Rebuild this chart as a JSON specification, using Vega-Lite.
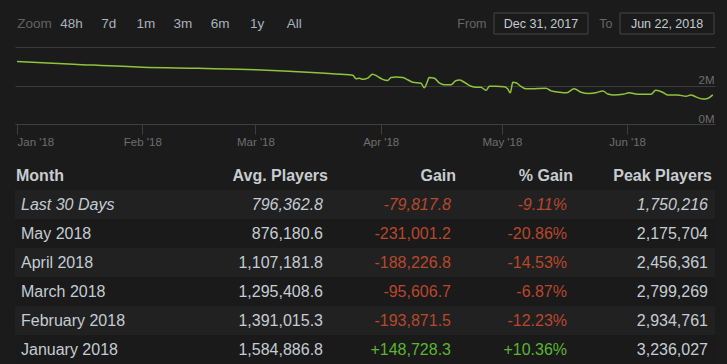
{
  "$schema": "https://vega.github.io/schema/vega-lite/v6.json",
  "background": "#1b1b1b",
  "padding": {"left": 14, "right": 13, "top": 0, "bottom": 0},
  "config": {
    "view": {"stroke": null},
    "font": "Liberation Sans",
    "text": {"font": "Liberation Sans"},
    "locale": {"number": {"decimal": ".", "thousands": ",", "grouping": [3], "currency": ["$", ""], "minus": "-"}}
  },
  "datasets": {
    "buttons": [{"b": "Zoom"}, {"b": "48h"}, {"b": "7d"}, {"b": "1m"}, {"b": "3m"}, {"b": "6m"}, {"b": "1y"}, {"b": "All"}],
    "boxes": [{"box": "from", "label": "From", "date": "Dec 31, 2017"}, {"box": "to", "label": "To", "date": "Jun 22, 2018"}],
    "header": [{"col": "Month"}, {"col": "Avg. Players"}, {"col": "Gain"}, {"col": "% Gain"}, {"col": "Peak Players"}],
    "months": [
      {"month": "Last 30 Days", "avg": 796362.8, "gain": -79817.8, "pct": -0.0911, "peak": 1750216},
      {"month": "May 2018", "avg": 876180.6, "gain": -231001.2, "pct": -0.2086, "peak": 2175704},
      {"month": "April 2018", "avg": 1107181.8, "gain": -188226.8, "pct": -0.1453, "peak": 2456361},
      {"month": "March 2018", "avg": 1295408.6, "gain": -95606.7, "pct": -0.0687, "peak": 2799269},
      {"month": "February 2018", "avg": 1391015.3, "gain": -193871.5, "pct": -0.1223, "peak": 2934761},
      {"month": "January 2018", "avg": 1584886.8, "gain": 148728.3, "pct": 0.1036, "peak": 3236027}
    ],
    "nav": [
      {"d": "2018-01-01", "v": 3250000},
      {"d": "2018-01-15", "v": 3110000},
      {"d": "2018-02-01", "v": 2950000},
      {"d": "2018-02-15", "v": 2890000},
      {"d": "2018-03-01", "v": 2820000},
      {"d": "2018-03-15", "v": 2680000},
      {"d": "2018-03-22T05:00Z", "v": 2580000},
      {"d": "2018-03-25T02:00Z", "v": 2530000},
      {"d": "2018-03-25T22:00Z", "v": 2350000},
      {"d": "2018-03-26T17:00Z", "v": 2380000},
      {"d": "2018-03-27T14:00Z", "v": 2320000},
      {"d": "2018-03-28T19:00Z", "v": 2380000},
      {"d": "2018-03-30T00:00Z", "v": 2590000},
      {"d": "2018-03-31T07:00Z", "v": 2460000},
      {"d": "2018-04-01T12:00Z", "v": 2320000},
      {"d": "2018-04-02T17:00Z", "v": 2260000},
      {"d": "2018-04-03T14:00Z", "v": 2420000},
      {"d": "2018-04-04T19:00Z", "v": 2440000},
      {"d": "2018-04-06T12:00Z", "v": 2410000},
      {"d": "2018-04-07T17:00Z", "v": 2300000},
      {"d": "2018-04-08T22:00Z", "v": 2170000},
      {"d": "2018-04-11T00:00Z", "v": 2120000},
      {"d": "2018-04-11T19:00Z", "v": 1880000},
      {"d": "2018-04-12T12:00Z", "v": 2170000},
      {"d": "2018-04-13T00:00Z", "v": 2420000},
      {"d": "2018-04-14T07:00Z", "v": 2380000},
      {"d": "2018-04-15T12:00Z", "v": 2140000},
      {"d": "2018-04-16T17:00Z", "v": 2040000},
      {"d": "2018-04-18T10:00Z", "v": 2040000},
      {"d": "2018-04-19T14:00Z", "v": 2250000},
      {"d": "2018-04-20T12:00Z", "v": 2280000},
      {"d": "2018-04-21T17:00Z", "v": 2170000},
      {"d": "2018-04-23T10:00Z", "v": 1960000},
      {"d": "2018-04-24T14:00Z", "v": 1910000},
      {"d": "2018-04-25T19:00Z", "v": 1910000},
      {"d": "2018-04-27T02:00Z", "v": 1750000},
      {"d": "2018-04-27T22:00Z", "v": 1960000},
      {"d": "2018-04-29T12:00Z", "v": 1960000},
      {"d": "2018-05-01T14:00Z", "v": 1930000},
      {"d": "2018-05-02T10:00Z", "v": 1830000},
      {"d": "2018-05-03T02:00Z", "v": 1620000},
      {"d": "2018-05-03T17:00Z", "v": 2170000},
      {"d": "2018-05-04T12:00Z", "v": 2140000},
      {"d": "2018-05-05T17:00Z", "v": 1960000},
      {"d": "2018-05-07T00:00Z", "v": 1830000},
      {"d": "2018-05-08T05:00Z", "v": 1830000},
      {"d": "2018-05-11T22:00Z", "v": 1860000},
      {"d": "2018-05-13T05:00Z", "v": 1720000},
      {"d": "2018-05-15T05:00Z", "v": 1650000},
      {"d": "2018-05-16T22:00Z", "v": 1620000},
      {"d": "2018-05-18T22:00Z", "v": 1830000},
      {"d": "2018-05-20T14:00Z", "v": 1650000},
      {"d": "2018-05-22T14:00Z", "v": 1580000},
      {"d": "2018-05-24T07:00Z", "v": 1620000},
      {"d": "2018-05-26T00:00Z", "v": 1720000},
      {"d": "2018-05-27T05:00Z", "v": 1560000},
      {"d": "2018-05-28T19:00Z", "v": 1510000},
      {"d": "2018-05-30T22:00Z", "v": 1540000},
      {"d": "2018-06-01T12:00Z", "v": 1620000},
      {"d": "2018-06-03T14:00Z", "v": 1540000},
      {"d": "2018-06-05T17:00Z", "v": 1540000},
      {"d": "2018-06-06T22:00Z", "v": 1540000},
      {"d": "2018-06-08T02:00Z", "v": 1750000},
      {"d": "2018-06-09T19:00Z", "v": 1650000},
      {"d": "2018-06-11T00:00Z", "v": 1510000},
      {"d": "2018-06-13T12:00Z", "v": 1510000},
      {"d": "2018-06-15T14:00Z", "v": 1440000},
      {"d": "2018-06-16T19:00Z", "v": 1510000},
      {"d": "2018-06-18T00:00Z", "v": 1410000},
      {"d": "2018-06-19T17:00Z", "v": 1300000},
      {"d": "2018-06-20T22:00Z", "v": 1330000},
      {"d": "2018-06-22T05:00Z", "v": 1510000}
    ]
  },
  "spacing": 0,
  "bounds": "flush",
  "vconcat": [
    {
      "width": 700,
      "height": 47,
      "resolve": {"scale": {"x": "independent", "y": "independent"}},
      "layer": [
        {
          "data": {"name": "buttons"},
          "layer": [
            {
              "transform": [{"filter": "datum.b === 'Zoom'"}],
              "mark": {"type": "text", "fontSize": 13.5, "color": "#626262"},
              "encoding": {
                "x": {"field": "b", "type": "nominal", "axis": null, "scale": {"type": "point", "domain": ["Zoom", "48h", "7d", "1m", "3m", "6m", "1y", "All"], "range": [19.5, 279.3], "padding": 0}},
                "text": {"field": "b"}
              }
            },
            {
              "transform": [{"filter": "datum.b !== 'Zoom'"}],
              "mark": {"type": "text", "fontSize": 13.5, "color": "#a8b2bc"},
              "encoding": {
                "x": {"field": "b", "type": "nominal", "axis": null},
                "text": {"field": "b"}
              }
            }
          ]
        },
        {
          "data": {"name": "boxes"},
          "layer": [
            {
              "mark": {"type": "rect", "fill": "#1b1b1b", "stroke": "#474747", "strokeWidth": 1},
              "encoding": {
                "x": {"field": "box", "type": "nominal", "axis": null, "scale": {"type": "band", "domain": ["from", "to"], "range": [479, 699], "paddingInner": 0.2545, "paddingOuter": 0}},
                "y": {"datum": "b", "type": "nominal", "axis": null, "scale": {"type": "band", "domain": ["b"], "paddingInner": 0, "paddingOuter": 0.619}}
              }
            },
            {
              "mark": {"type": "text", "fontSize": 12.5, "color": "#c3cbd3"},
              "encoding": {
                "x": {"field": "box", "type": "nominal", "axis": null},
                "y": {"datum": "b", "type": "nominal", "axis": null},
                "text": {"field": "date"}
              }
            },
            {
              "mark": {"type": "text", "fontSize": 12.5, "color": "#666666", "align": "right", "dx": -7.5},
              "encoding": {
                "x": {"field": "box", "type": "nominal", "axis": null, "bandPosition": 0},
                "y": {"datum": "b", "type": "nominal", "axis": null},
                "text": {"field": "label"}
              }
            }
          ]
        }
      ]
    },
    {
      "width": 700,
      "height": 77,
      "data": {"name": "nav"},
      "mark": {"type": "line", "color": "#8fc43c", "strokeWidth": 1.5, "interpolate": "monotone"},
      "encoding": {
        "x": {
          "field": "d",
          "type": "temporal",
          "scale": {"type": "utc", "domain": [{"year": 2017, "month": 12, "date": 31, "hours": 12, "utc": true}, {"year": 2018, "month": 6, "date": 22, "hours": 18, "utc": true}]},
          "axis": {
            "title": null,
            "grid": false,
            "values": [
              {"year": 2018, "month": 1, "date": 1, "utc": true},
              {"year": 2018, "month": 2, "date": 1, "utc": true},
              {"year": 2018, "month": 3, "date": 1, "utc": true},
              {"year": 2018, "month": 4, "date": 1, "utc": true},
              {"year": 2018, "month": 5, "date": 1, "utc": true},
              {"year": 2018, "month": 6, "date": 1, "utc": true}
            ],
            "format": "%b '%y",
            "labelFlush": 5,
            "labelOverlap": false,
            "tickSize": 10,
            "tickColor": "#3e3e3e",
            "domainColor": "#3e3e3e",
            "labelColor": "#6e6e6e",
            "labelFontSize": 11.5,
            "labelPadding": 2,
            "labelFont": "Liberation Sans"
          }
        },
        "y": {
          "field": "v",
          "type": "quantitative",
          "scale": {"domain": [0, 4000000], "nice": false},
          "axis": {
            "title": null,
            "orient": "right",
            "values": [0, 2000000, 4000000],
            "grid": true,
            "gridColor": "#3b3b3b",
            "domain": false,
            "ticks": false,
            "tickSize": 0,
            "labelPadding": -1,
            "labelAlign": "right",
            "labelBaseline": "alphabetic",
            "labelOffset": -2,
            "labelColor": "#6e6e6e",
            "labelFontSize": 11.5,
            "labelFont": "Liberation Sans",
            "labelExpr": "datum.value >= 4000000 ? '' : (datum.value / 1000000) + 'M'"
          }
        }
      }
    },
    {
      "spacing": 0,
      "bounds": "flush",
      "hconcat": [
        {
          "width": 186,
          "height": 240,
          "layer": [
            {
              "data": {"name": "months"},
              "mark": {"type": "rect"},
              "encoding": {
                "x": {"datum": "c", "type": "nominal", "axis": null, "scale": {"type": "band", "domain": ["c"], "paddingInner": 0, "paddingOuter": 0}},
                "y": {"field": "month", "type": "nominal", "axis": null, "scale": {"type": "band", "domain": ["Month", "Last 30 Days", "May 2018", "April 2018", "March 2018", "February 2018", "January 2018"], "paddingInner": 0, "paddingOuter": 0.638, "align": 1}},
                "fill": {"condition": {"test": "indexof(['Last 30 Days','April 2018','February 2018'], datum.month) >= 0", "value": "#212121"}, "value": "#1a1a1a"}
              }
            },
            {
              "data": {"name": "header"},
              "transform": [{"filter": "datum.col === 'Month'"}],
              "mark": {"type": "text", "align": "left", "dx": 1, "fontSize": 16, "fontWeight": "bold", "color": "#c7ccd1"},
              "encoding": {
                "x": {"datum": "c", "type": "nominal", "axis": null, "bandPosition": 0},
                "y": {"datum": "Month", "type": "nominal", "axis": null},
                "text": {"field": "col"}
              }
            },
            {
              "data": {"name": "months"},
              "transform": [{"filter": "datum.month === 'Last 30 Days'"}],
              "mark": {"type": "text", "align": "left", "dx": 6, "fontSize": 16, "fontStyle": "italic", "color": "#c5ccd3"},
              "encoding": {
                "x": {"datum": "c", "type": "nominal", "axis": null, "bandPosition": 0},
                "y": {"field": "month", "type": "nominal", "axis": null},
                "text": {"field": "month"}
              }
            },
            {
              "data": {"name": "months"},
              "transform": [{"filter": "datum.month !== 'Last 30 Days'"}],
              "mark": {"type": "text", "align": "left", "dx": 6, "fontSize": 16, "color": "#c5ccd3"},
              "encoding": {
                "x": {"datum": "c", "type": "nominal", "axis": null, "bandPosition": 0},
                "y": {"field": "month", "type": "nominal", "axis": null},
                "text": {"field": "month"}
              }
            }
          ]
        },
        {
          "width": 127,
          "height": 240,
          "layer": [
            {
              "data": {"name": "months"},
              "mark": {"type": "rect"},
              "encoding": {
                "x": {"datum": "c", "type": "nominal", "axis": null, "scale": {"type": "band", "domain": ["c"], "paddingInner": 0, "paddingOuter": 0}},
                "y": {"field": "month", "type": "nominal", "axis": null, "scale": {"type": "band", "domain": ["Month", "Last 30 Days", "May 2018", "April 2018", "March 2018", "February 2018", "January 2018"], "paddingInner": 0, "paddingOuter": 0.638, "align": 1}},
                "fill": {"condition": {"test": "indexof(['Last 30 Days','April 2018','February 2018'], datum.month) >= 0", "value": "#212121"}, "value": "#1a1a1a"}
              }
            },
            {
              "data": {"name": "header"},
              "transform": [{"filter": "datum.col === 'Avg. Players'"}],
              "mark": {"type": "text", "align": "right", "dx": 0, "fontSize": 16, "fontWeight": "bold", "color": "#c7ccd1"},
              "encoding": {
                "x": {"datum": "c", "type": "nominal", "axis": null, "bandPosition": 1},
                "y": {"datum": "Month", "type": "nominal", "axis": null},
                "text": {"field": "col"}
              }
            },
            {
              "data": {"name": "months"},
              "transform": [{"filter": "datum.month === 'Last 30 Days'"}],
              "mark": {"type": "text", "align": "right", "dx": -5, "fontSize": 16, "fontStyle": "italic", "color": "#c5ccd3"},
              "encoding": {
                "x": {"datum": "c", "type": "nominal", "axis": null, "bandPosition": 1},
                "y": {"field": "month", "type": "nominal", "axis": null},
                "text": {"field": "avg", "type": "quantitative", "format": ",.1f"}
              }
            },
            {
              "data": {"name": "months"},
              "transform": [{"filter": "datum.month !== 'Last 30 Days'"}],
              "mark": {"type": "text", "align": "right", "dx": -5, "fontSize": 16, "color": "#c5ccd3"},
              "encoding": {
                "x": {"datum": "c", "type": "nominal", "axis": null, "bandPosition": 1},
                "y": {"field": "month", "type": "nominal", "axis": null},
                "text": {"field": "avg", "type": "quantitative", "format": ",.1f"}
              }
            }
          ]
        },
        {
          "width": 128,
          "height": 240,
          "layer": [
            {
              "data": {"name": "months"},
              "mark": {"type": "rect"},
              "encoding": {
                "x": {"datum": "c", "type": "nominal", "axis": null, "scale": {"type": "band", "domain": ["c"], "paddingInner": 0, "paddingOuter": 0}},
                "y": {"field": "month", "type": "nominal", "axis": null, "scale": {"type": "band", "domain": ["Month", "Last 30 Days", "May 2018", "April 2018", "March 2018", "February 2018", "January 2018"], "paddingInner": 0, "paddingOuter": 0.638, "align": 1}},
                "fill": {"condition": {"test": "indexof(['Last 30 Days','April 2018','February 2018'], datum.month) >= 0", "value": "#212121"}, "value": "#1a1a1a"}
              }
            },
            {
              "data": {"name": "header"},
              "transform": [{"filter": "datum.col === 'Gain'"}],
              "mark": {"type": "text", "align": "right", "dx": 0, "fontSize": 16, "fontWeight": "bold", "color": "#c7ccd1"},
              "encoding": {
                "x": {"datum": "c", "type": "nominal", "axis": null, "bandPosition": 1},
                "y": {"datum": "Month", "type": "nominal", "axis": null},
                "text": {"field": "col"}
              }
            },
            {
              "data": {"name": "months"},
              "transform": [{"filter": "datum.month === 'Last 30 Days'"}],
              "mark": {"type": "text", "align": "right", "dx": -5, "fontSize": 16, "fontStyle": "italic"},
              "encoding": {
                "x": {"datum": "c", "type": "nominal", "axis": null, "bandPosition": 1},
                "y": {"field": "month", "type": "nominal", "axis": null},
                "text": {"field": "gain", "type": "quantitative", "format": "+,.1f"},
                "color": {"condition": {"test": "datum.gain >= 0", "value": "#5cb531"}, "value": "#b8472c"}
              }
            },
            {
              "data": {"name": "months"},
              "transform": [{"filter": "datum.month !== 'Last 30 Days'"}],
              "mark": {"type": "text", "align": "right", "dx": -5, "fontSize": 16},
              "encoding": {
                "x": {"datum": "c", "type": "nominal", "axis": null, "bandPosition": 1},
                "y": {"field": "month", "type": "nominal", "axis": null},
                "text": {"field": "gain", "type": "quantitative", "format": "+,.1f"},
                "color": {"condition": {"test": "datum.gain >= 0", "value": "#5cb531"}, "value": "#b8472c"}
              }
            }
          ]
        },
        {
          "width": 117,
          "height": 240,
          "layer": [
            {
              "data": {"name": "months"},
              "mark": {"type": "rect"},
              "encoding": {
                "x": {"datum": "c", "type": "nominal", "axis": null, "scale": {"type": "band", "domain": ["c"], "paddingInner": 0, "paddingOuter": 0}},
                "y": {"field": "month", "type": "nominal", "axis": null, "scale": {"type": "band", "domain": ["Month", "Last 30 Days", "May 2018", "April 2018", "March 2018", "February 2018", "January 2018"], "paddingInner": 0, "paddingOuter": 0.638, "align": 1}},
                "fill": {"condition": {"test": "indexof(['Last 30 Days','April 2018','February 2018'], datum.month) >= 0", "value": "#212121"}, "value": "#1a1a1a"}
              }
            },
            {
              "data": {"name": "header"},
              "transform": [{"filter": "datum.col === '% Gain'"}],
              "mark": {"type": "text", "align": "right", "dx": 0, "fontSize": 16, "fontWeight": "bold", "color": "#c7ccd1"},
              "encoding": {
                "x": {"datum": "c", "type": "nominal", "axis": null, "bandPosition": 1},
                "y": {"datum": "Month", "type": "nominal", "axis": null},
                "text": {"field": "col"}
              }
            },
            {
              "data": {"name": "months"},
              "transform": [{"filter": "datum.month === 'Last 30 Days'"}],
              "mark": {"type": "text", "align": "right", "dx": -6, "fontSize": 16, "fontStyle": "italic"},
              "encoding": {
                "x": {"datum": "c", "type": "nominal", "axis": null, "bandPosition": 1},
                "y": {"field": "month", "type": "nominal", "axis": null},
                "text": {"field": "pct", "type": "quantitative", "format": "+.2%"},
                "color": {"condition": {"test": "datum.pct >= 0", "value": "#5cb531"}, "value": "#b8472c"}
              }
            },
            {
              "data": {"name": "months"},
              "transform": [{"filter": "datum.month !== 'Last 30 Days'"}],
              "mark": {"type": "text", "align": "right", "dx": -6, "fontSize": 16},
              "encoding": {
                "x": {"datum": "c", "type": "nominal", "axis": null, "bandPosition": 1},
                "y": {"field": "month", "type": "nominal", "axis": null},
                "text": {"field": "pct", "type": "quantitative", "format": "+.2%"},
                "color": {"condition": {"test": "datum.pct >= 0", "value": "#5cb531"}, "value": "#b8472c"}
              }
            }
          ]
        },
        {
          "width": 142,
          "height": 240,
          "layer": [
            {
              "data": {"name": "months"},
              "mark": {"type": "rect"},
              "encoding": {
                "x": {"datum": "c", "type": "nominal", "axis": null, "scale": {"type": "band", "domain": ["c"], "paddingInner": 0, "paddingOuter": 0}},
                "y": {"field": "month", "type": "nominal", "axis": null, "scale": {"type": "band", "domain": ["Month", "Last 30 Days", "May 2018", "April 2018", "March 2018", "February 2018", "January 2018"], "paddingInner": 0, "paddingOuter": 0.638, "align": 1}},
                "fill": {"condition": {"test": "indexof(['Last 30 Days','April 2018','February 2018'], datum.month) >= 0", "value": "#212121"}, "value": "#1a1a1a"}
              }
            },
            {
              "data": {"name": "header"},
              "transform": [{"filter": "datum.col === 'Peak Players'"}],
              "mark": {"type": "text", "align": "right", "dx": -3, "fontSize": 16, "fontWeight": "bold", "color": "#c7ccd1"},
              "encoding": {
                "x": {"datum": "c", "type": "nominal", "axis": null, "bandPosition": 1},
                "y": {"datum": "Month", "type": "nominal", "axis": null},
                "text": {"field": "col"}
              }
            },
            {
              "data": {"name": "months"},
              "transform": [{"filter": "datum.month === 'Last 30 Days'"}],
              "mark": {"type": "text", "align": "right", "dx": -7, "fontSize": 16, "fontStyle": "italic", "color": "#c5ccd3"},
              "encoding": {
                "x": {"datum": "c", "type": "nominal", "axis": null, "bandPosition": 1},
                "y": {"field": "month", "type": "nominal", "axis": null},
                "text": {"field": "peak", "type": "quantitative", "format": ",d"}
              }
            },
            {
              "data": {"name": "months"},
              "transform": [{"filter": "datum.month !== 'Last 30 Days'"}],
              "mark": {"type": "text", "align": "right", "dx": -7, "fontSize": 16, "color": "#c5ccd3"},
              "encoding": {
                "x": {"datum": "c", "type": "nominal", "axis": null, "bandPosition": 1},
                "y": {"field": "month", "type": "nominal", "axis": null},
                "text": {"field": "peak", "type": "quantitative", "format": ",d"}
              }
            }
          ]
        }
      ]
    }
  ]
}
